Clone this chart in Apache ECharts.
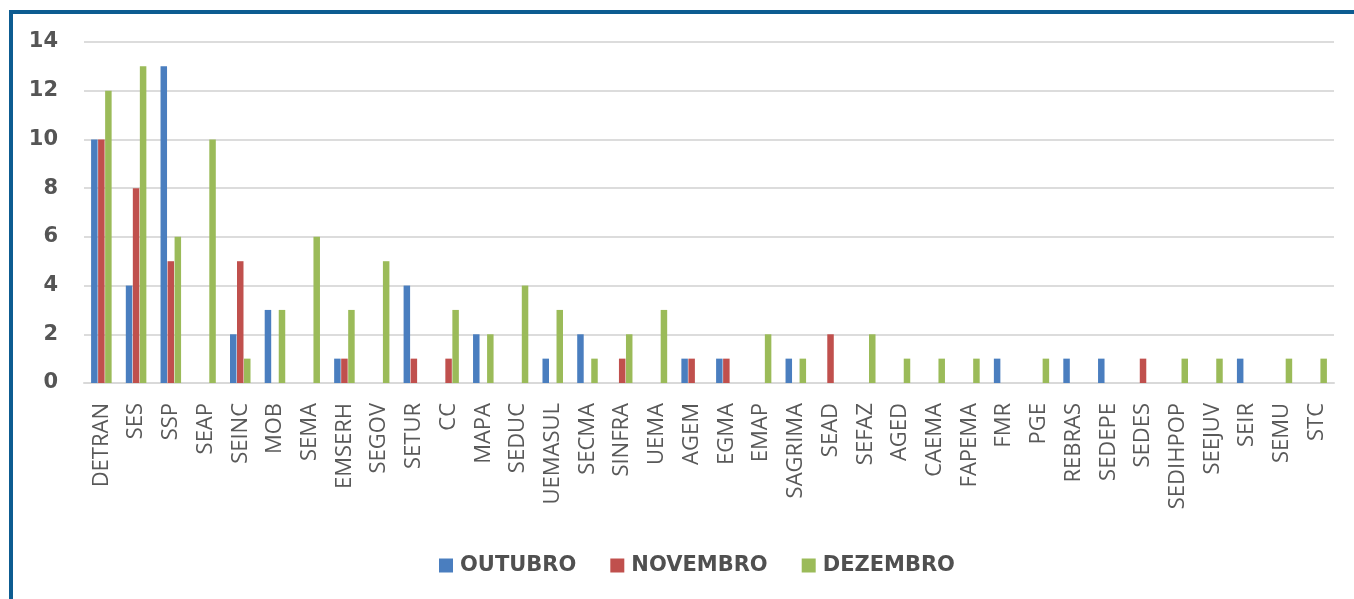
<!DOCTYPE html>
<html>
<head>
<meta charset="utf-8">
<script src="https://cdn.jsdelivr.net/npm/echarts@6/dist/echarts.min.js"></script>
<style>
  html, body { margin: 0; padding: 0; background: #fff; }
  #chart { width: 1354px; height: 599px; }
</style>
</head>
<body>
<div id="chart"></div>
<script>
// órgãos (eixo x)
const orgaos = ['DETRAN', 'SES', 'SSP', 'SEAP', 'SEINC', 'MOB', 'SEMA', 'EMSERH', 'SEGOV', 'SETUR',
  'CC', 'MAPA', 'SEDUC', 'UEMASUL', 'SECMA', 'SINFRA', 'UEMA', 'AGEM', 'EGMA', 'EMAP',
  'SAGRIMA', 'SEAD', 'SEFAZ', 'AGED', 'CAEMA', 'FAPEMA', 'FMR', 'PGE', 'REBRAS', 'SEDEPE',
  'SEDES', 'SEDIHPOP', 'SEEJUV', 'SEIR', 'SEMU', 'STC'];

// null = sem barra
const outubro = [10, 4, 13, null, 2, 3, null, 1, null, 4,
  null, 2, null, 1, 2, null, null, 1, 1, null,
  1, null, null, null, null, null, 1, null, 1, 1,
  null, null, null, 1, null, null];
const novembro = [10, 8, 5, null, 5, null, null, 1, null, 1,
  1, null, null, null, null, 1, null, 1, 1, null,
  null, 2, null, null, null, null, null, null, null, null,
  1, null, null, null, null, null];
const dezembro = [12, 13, 6, 10, 1, 3, 6, 3, 5, null,
  3, 2, 4, 3, 1, 2, 3, null, null, 2,
  1, null, 2, 1, 1, 1, null, 1, null, null,
  null, 1, 1, null, 1, 1];

const chart = echarts.init(document.getElementById('chart'));

const barBase = { type: 'bar', barWidth: 6.5, barGap: '8%' };

chart.setOption({
  animation: false,
  graphic: [{
    type: 'polyline',
    shape: { points: [[11, 700], [11, 12], [1500, 12]] },
    style: { fill: null, stroke: '#0d5c91', lineWidth: 4 },
    silent: true
  }],
  legend: {
    top: 550,
    left: 434,
    itemWidth: 14,
    itemHeight: 14,
    itemGap: 34,
    icon: 'rect',
    textStyle: { fontFamily: 'DejaVu Sans', fontWeight: 'bold', fontSize: 21, color: '#505050', padding: [0, 0, 0, 2] },
    data: ['OUTUBRO', 'NOVEMBRO', 'DEZEMBRO']
  },
  grid: { left: 84, right: 20, top: 42, bottom: 216 },
  xAxis: {
    type: 'category',
    data: orgaos,
    axisLine: { lineStyle: { color: '#d9d9d9', width: 2 } },
    axisTick: { show: false },
    axisLabel: {
      rotate: 90,
      interval: 0,
      margin: 20,
      fontFamily: 'Open Sans',
      fontSize: 22,
      color: '#595959'
    }
  },
  yAxis: {
    type: 'value',
    min: 0,
    max: 14,
    interval: 2,
    axisLine: { show: false },
    axisTick: { show: false },
    splitLine: { lineStyle: { color: '#dcdcdc', width: 2 } },
    axisLabel: {
      margin: 26,
      fontFamily: 'DejaVu Sans',
      fontWeight: 'bold',
      fontSize: 21,
      color: '#555555'
    }
  },
  series: [
    Object.assign({ name: 'OUTUBRO', data: outubro, itemStyle: { color: '#4a7ebf' } }, barBase),
    Object.assign({ name: 'NOVEMBRO', data: novembro, itemStyle: { color: '#c0504d' } }, barBase),
    Object.assign({ name: 'DEZEMBRO', data: dezembro, itemStyle: { color: '#9bbb59' } }, barBase)
  ]
});
</script>
</body>
</html>
